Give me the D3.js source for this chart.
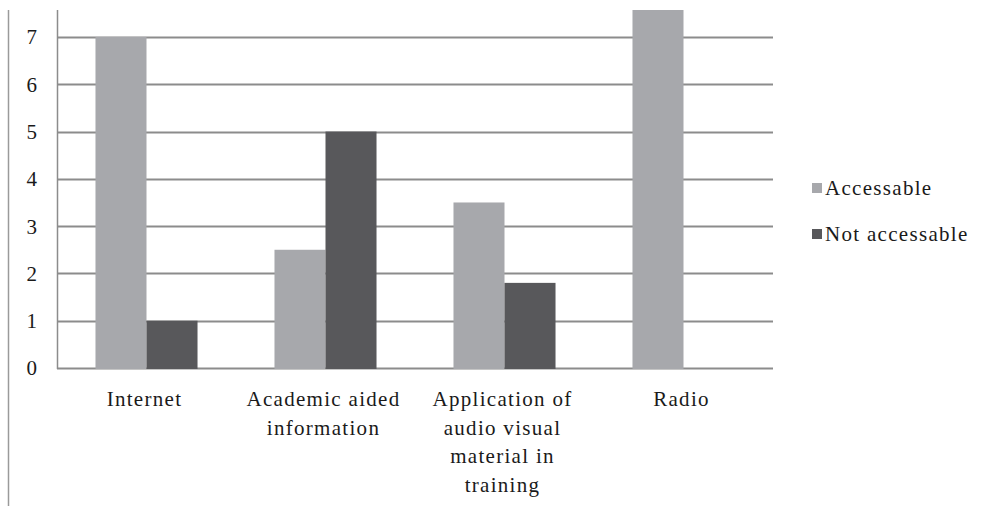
<!DOCTYPE html>
<html>
<head>
<meta charset="utf-8">
<script src="https://cdn.jsdelivr.net/npm/d3@7"></script>
<style>
  @font-face { font-family: "RefSerif"; src: local("Liberation Serif"), local("LiberationSerif"), local("Liberation Serif Regular"), local("LiberationSerif-Regular"); }
</style>
</head>
<body style="margin:0;background:#fff">
<svg id="chart" width="986" height="506" style="display:block"></svg>
<script>
const categories = ["Internet", "Academic aided information", "Application of audio visual material in training", "Radio"];
const categoryLines = [["Internet"], ["Academic aided", "information"], ["Application of", "audio visual", "material in", "training"], ["Radio"]];
const seriesNames = ["Accessable", "Not accessable"];
const accessable = [7, 2.5, 3.5, 8];
const notAccessable = [1, 5, 1.8, 0];
const yTicks = [0, 1, 2, 3, 4, 5, 6, 7];
const colors = ["#a7a8ac", "#58585b"];
const FONT = "'Liberation Serif', RefSerif, monospace";
const FONT_STYLE = "font-family: 'Liberation Serif', RefSerif, monospace !important;";

const svg = d3.select("#chart");
const W = 986, H = 506;
const plot = { left: 57, right: 773, top: 10, bottom: 368 };

const x0 = d3.scaleBand().domain(categories).range([plot.left, plot.right]).paddingInner(0.43).paddingOuter(0.215);
const x1 = d3.scaleBand().domain(seriesNames).range([0, x0.bandwidth()]);
const y = d3.scaleLinear().domain([0, 7.57]).range([plot.bottom, plot.top]);

// frame line at left
svg.append("line").attr("x1", 8.5).attr("x2", 8.5).attr("y1", 10).attr("y2", H)
  .attr("stroke", "#9a9a9a").attr("stroke-width", 1.5);

// gridlines
svg.append("g").selectAll("line").data(yTicks).join("line")
  .attr("x1", plot.left).attr("x2", plot.right)
  .attr("y1", d => Math.round(y(d)) + 0.5).attr("y2", d => Math.round(y(d)) + 0.5)
  .attr("stroke", "#8c8c8c").attr("stroke-width", 2);

// y axis line
svg.append("line").attr("x1", plot.left + 0.5).attr("x2", plot.left + 0.5)
  .attr("y1", plot.top).attr("y2", plot.bottom + 1)
  .attr("stroke", "#8c8c8c").attr("stroke-width", 1.5);

// y tick labels
const yAxis = d3.axisLeft(y).tickValues(yTicks).tickSize(0).tickPadding(0).tickFormat(d3.format("d"));
const gy = svg.append("g").attr("transform", `translate(${plot.left - 20},0)`).call(yAxis);
gy.attr("font-family", FONT).attr("font-size", 21);
gy.select(".domain").remove();
gy.selectAll("text").attr("fill", "#1a1a1a").attr("dy", "0.33em").attr("font-family", FONT).attr("style", FONT_STYLE);

// bars
svg.append("defs").append("clipPath").attr("id", "clip").append("rect")
  .attr("x", plot.left).attr("y", plot.top).attr("width", plot.right - plot.left).attr("height", plot.bottom - plot.top + 1);

const rows = categories.map((c, i) => ({ c, vals: [accessable[i], notAccessable[i]] }));
const groups = svg.append("g").attr("clip-path", "url(#clip)").selectAll("g").data(rows).join("g")
  .attr("transform", d => `translate(${x0(d.c)},0)`);
groups.selectAll("rect").data(d => d.vals.map((v, j) => ({ s: seriesNames[j], v, j })).filter(d => d.v > 0)).join("rect")
  .attr("x", d => x1(d.s)).attr("width", x1.bandwidth())
  .attr("y", d => y(d.v)).attr("height", d => y(0) - y(d.v) + 1)
  .attr("fill", d => colors[d.j]);

// x labels
const xl = svg.append("g").selectAll("text").data(categories).join("text")
  .attr("x", d => x0(d) + x0.bandwidth() / 2 - 2)
  .attr("y", 406)
  .attr("text-anchor", "middle").attr("font-size", 21).attr("font-family", FONT).attr("style", FONT_STYLE)
  .attr("letter-spacing", 1.3).attr("fill", "#1a1a1a");
xl.each(function(d, i) {
  d3.select(this).selectAll("tspan").data(categoryLines[i]).join("tspan")
    .attr("x", x0(d) + x0.bandwidth() / 2 - 2)
    .attr("dy", (t, k) => k === 0 ? 0 : 28.5)
    .text(t => t);
});

// legend
const lg = svg.append("g").attr("transform", "translate(812,188)");
seriesNames.forEach((s, i) => {
  const g = lg.append("g").attr("transform", `translate(0,${i * 46})`);
  g.append("rect").attr("x", 0).attr("y", -5).attr("width", 10).attr("height", 10).attr("fill", colors[i]);
  g.append("text").attr("x", 13).attr("y", 0).attr("dy", "0.33em").attr("font-size", 21)
    .attr("font-family", FONT).attr("style", FONT_STYLE).attr("letter-spacing", 1.3).attr("fill", "#1a1a1a").text(s);
});
</script>
</body>
</html>
